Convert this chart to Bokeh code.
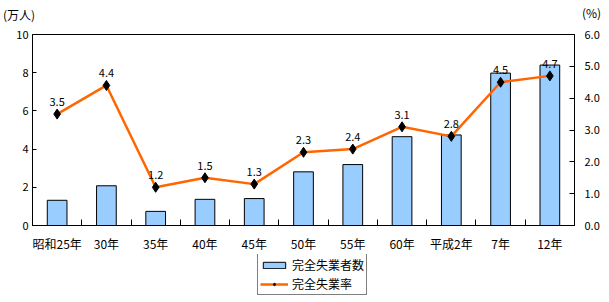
from bokeh.plotting import figure
from bokeh.layouts import column
from bokeh.models import (Range1d, LinearAxis, FixedTicker, Legend, LegendItem,
                          ColumnDataSource, Div, NumeralTickFormatter)
from bokeh.embed import file_html
from bokeh.resources import INLINE

categories = ["昭和25年", "30年", "35年", "40年", "45年", "50年", "55年", "60年", "平成2年", "7年", "12年"]
unemployed = [1.32, 2.08, 0.74, 1.37, 1.41, 2.81, 3.19, 4.65, 4.74, 7.98, 8.40]
rate = [3.5, 4.4, 1.2, 1.5, 1.3, 2.3, 2.4, 3.1, 2.8, 4.5, 4.7]
left_ticks = [0, 2, 4, 6, 8, 10]
right_ticks = [0, 1, 2, 3, 4, 5, 6]
series_names = ["完全失業者数", "完全失業率"]
units = ["(万人)", "(%)"]

FONT = "Noto Sans CJK JP"
BAR_FILL = "#99CCFF"
LINE_COL = "#FF6600"
idx = list(range(len(categories)))


def style(fig):
    fig.xgrid.visible = False
    fig.ygrid.visible = False
    fig.background_fill_color = "white"
    fig.border_fill_color = "white"


src = ColumnDataSource(dict(x=idx, bar=unemployed, rate=rate,
                            lbl=["%.1f" % r for r in rate]))

# ---- unit captions above the chart
span_css = ("position:absolute;font-family:'Noto Sans CJK JP';font-size:12px;"
            "line-height:14px;color:black;white-space:nowrap;")
top = Div(width=609, height=24, margin=0,
          text=('<div style="position:relative;width:609px;height:24px;">'
                f'<span style="{span_css}left:3px;top:8px;">{units[0]}</span>'
                f'<span style="{span_css}left:582px;top:6px;">{units[1]}</span>'
                '</div>'))

# ---- main chart
p = figure(width=609, height=230, output_backend="svg", toolbar_location=None,
           x_range=Range1d(-0.5, len(categories) - 0.5), y_range=Range1d(0, 10),
           x_axis_location=None, y_axis_location=None,
           min_border_left=32, min_border_right=35, min_border_top=10, min_border_bottom=28)
style(p)
p.outline_line_color = "black"
p.outline_line_width = 1
p.extra_y_ranges = {"rate": Range1d(0, 6)}

p.vbar(x="x", top="bar", width=0.4, source=src, fill_color=BAR_FILL,
       line_color="black", line_width=1)
p.line(x="x", y="rate", source=src, y_range_name="rate", line_color=LINE_COL,
       line_width=2.5)
p.scatter(x="x", y="rate", source=src, y_range_name="rate", marker="diamond",
          size=10, fill_color="black", line_color="black")
p.text(x="x", y="rate", text="lbl", source=src, y_range_name="rate",
       text_align="center", text_baseline="bottom", y_offset=-8,
       text_font={"value": FONT}, text_font_size="11px", text_color="black")

xa = LinearAxis(ticker=FixedTicker(ticks=idx, minor_ticks=[i + 0.5 for i in idx[:-1]]),
                major_label_overrides={i: c for i, c in zip(idx, categories)})
xa.major_tick_in = 0
xa.major_tick_out = 0
xa.minor_tick_in = 6
xa.minor_tick_out = 0
xa.major_label_standoff = 9
xa.major_label_text_font = FONT
xa.major_label_text_font_size = "12px"
xa.major_label_text_color = "black"
xa.axis_line_color = "black"
p.add_layout(xa, "below")

ya = LinearAxis(ticker=FixedTicker(ticks=left_ticks))
ya.major_tick_in = 4
ya.major_tick_out = 0
ya.minor_tick_line_color = None
ya.major_label_standoff = 4
ya.major_label_text_font = FONT
ya.major_label_text_font_size = "11px"
ya.major_label_text_color = "black"
ya.axis_line_color = "black"
p.add_layout(ya, "left")

ra = LinearAxis(y_range_name="rate", ticker=FixedTicker(ticks=right_ticks),
                formatter=NumeralTickFormatter(format="0.0"))
ra.major_tick_in = 5
ra.major_tick_out = 0
ra.minor_tick_line_color = None
ra.major_label_standoff = 10
ra.major_label_text_font = FONT
ra.major_label_text_font_size = "11px"
ra.major_label_text_color = "black"
ra.axis_line_color = "black"
p.add_layout(ra, "right")

# ---- bottom strip with legend (same series, drawn outside its visible y range)
bot = figure(width=609, height=48, output_backend="svg", toolbar_location=None,
             x_range=Range1d(-0.5, len(categories) - 0.5), y_range=Range1d(100, 101),
             x_axis_location=None, y_axis_location=None,
             min_border=0, min_border_left=0, min_border_right=0,
             min_border_top=0, min_border_bottom=0)
style(bot)
bot.outline_line_color = None
lb = bot.vbar(x="x", top="bar", width=0.4, source=src, fill_color=BAR_FILL,
              line_color="black", line_width=1)
ll = bot.line(x="x", y="rate", source=src, line_color=LINE_COL, line_width=2.5)
lp = bot.scatter(x="x", y="rate", source=src, marker="diamond", size=8,
                 fill_color="black", line_color="black")

legend = Legend(items=[LegendItem(label=series_names[0], renderers=[lb]),
                       LegendItem(label=series_names[1], renderers=[ll, lp])],
                location=(225, 7), orientation="vertical")
legend.border_line_color = "black"
legend.border_line_width = 1
legend.label_text_font = FONT
legend.label_text_font_size = "12px"
legend.label_text_color = "black"
legend.glyph_width = 28
legend.glyph_height = 8
legend.label_height = 14
legend.label_standoff = 4
legend.spacing = 2
legend.padding = 2
legend.margin = 0
legend.background_fill_color = "white"
bot.add_layout(legend, "center")

layout = column(top, p, bot, spacing=0)
open("out.html", "w").write(file_html(layout, INLINE))
